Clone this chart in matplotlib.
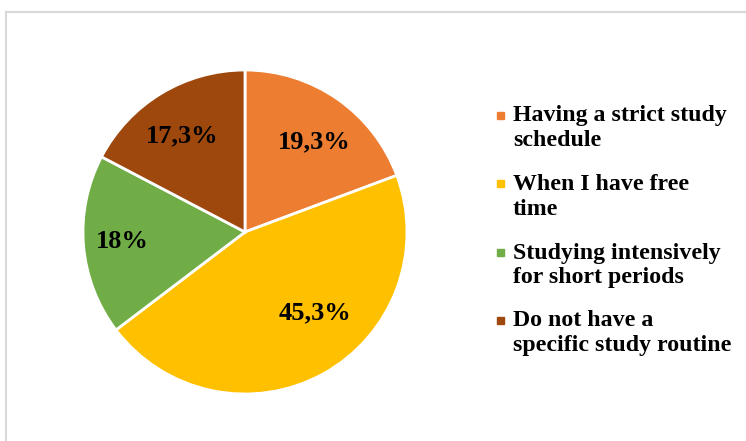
import numpy as np
import matplotlib.pyplot as plt
from matplotlib.patches import Rectangle
from matplotlib.lines import Line2D

# data
categories = ["Having a strict study\nschedule",
              "When I have free\ntime",
              "Studying intensively\nfor short periods",
              "Do not have a\nspecific study routine"]
values = [19.3, 45.3, 18.0, 17.3]
pct_labels = ["19,3%", "45,3%", "18%", "17,3%"]
colors = ["#ED7D31", "#FFC000", "#70AD47", "#9E480E"]

W, H = 746, 441
fig = plt.figure(figsize=(W / 100, H / 100), dpi=100)
fig.patch.set_facecolor("white")

# light grey frame (top and left edges only visible)
fig.add_artist(Line2D([6 / W, 6 / W], [0, 1 - 12 / H], color="#D9D9D9", lw=1.5))
fig.add_artist(Line2D([6 / W, 1], [1 - 12 / H, 1 - 12 / H], color="#D9D9D9", lw=1.5))

cx, cy, r = 245, 232, 162
ax = fig.add_axes([(cx - r) / W, (H - cy - r) / H, 2 * r / W, 2 * r / H])
wedges, _ = ax.pie(values, colors=colors, startangle=90, counterclock=False,
                   radius=1, wedgeprops=dict(edgecolor="white", linewidth=2))
ax.set_xlim(-1, 1)
ax.set_ylim(-1, 1)
ax.set_aspect("equal")
ax.axis("off")

pie_font = dict(family="Liberation Serif", weight="bold", size=19)
dist = [0.70, 0.66, 0.76, 0.71]
shift = [-2.8, 11.8, -0.4, 1.8]  # angle nudges (deg) for label placement
for w, lab, d, s in zip(wedges, pct_labels, dist, shift):
    ang = np.deg2rad((w.theta1 + w.theta2) / 2 + s)
    ax.text(d * np.cos(ang), d * np.sin(ang), lab, ha="center", va="center",
            color="black", **pie_font)

# legend drawn by hand
leg_font = dict(family="Liberation Serif", weight="bold", size=17.2)
tx = 513
first_line_y = [115, 183, 252, 320]
for lab, col, y in zip(categories, colors, first_line_y):
    fig.add_artist(Rectangle(((tx - 16) / W, (H - y - 4) / H), 7 / W, 7 / H,
                             color=col, transform=fig.transFigure))
    fig.text(tx / W, (H - y - 13.5) / H, lab, ha="left", va="center",
             linespacing=1.25, **leg_font)

fig.savefig("out.png", dpi=100)
